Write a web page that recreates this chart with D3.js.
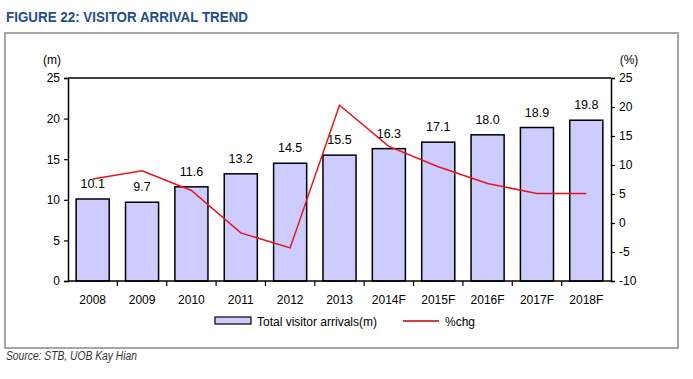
<!DOCTYPE html>
<html><head><meta charset="utf-8">
<script src="https://cdn.jsdelivr.net/npm/d3@7"></script>
<style>body{margin:0;background:#fff}svg{display:block}</style>
</head><body>
<script>
const categories = ["2008","2009","2010","2011","2012","2013","2014F","2015F","2016F","2017F","2018F"];
const arrivals = [10.1, 9.7, 11.6, 13.2, 14.5, 15.5, 16.3, 17.1, 18.0, 18.9, 19.8];
const pctChg = [7.6, 9.0, 5.6, -1.7, -4.3, 20.3, 13.2, 9.7, 6.8, 5.1, 5.1];
const leftTicks = [0, 5, 10, 15, 20, 25];
const rightTicks = [-10, -5, 0, 5, 10, 15, 20, 25];

const W = 693, H = 379;
const svg = d3.select("body").append("svg").attr("width", W).attr("height", H);
const L = 68, R = 611, T = 78, B = 281;
const font = "'Liberation Sans', Arial, sans-serif";

// frame
svg.append("rect").attr("x", 5).attr("y", 33).attr("width", 673).attr("height", 315)
  .attr("fill", "none").attr("stroke", "#a6a6a6").attr("stroke-width", 2);

svg.append("text").attr("x", 6).attr("y", 22)
  .attr("font-family", "'Liberation Sans Narrow','Arial Narrow', 'Liberation Sans', sans-serif")
  .attr("font-weight", "bold").attr("font-size", 15).attr("fill", "#1f4e8c")
  .attr("textLength", 242).attr("lengthAdjust", "spacingAndGlyphs")
  .text("FIGURE 22: VISITOR ARRIVAL TREND");

svg.append("text").attr("x", 6).attr("y", 360)
  .attr("font-family", "'Liberation Sans Narrow','Arial Narrow', 'Liberation Sans', sans-serif")
  .attr("font-style", "italic").attr("font-size", 12).attr("fill", "#333")
  .attr("textLength", 131).attr("lengthAdjust", "spacingAndGlyphs")
  .text("Source: STB, UOB Kay Hian");

const x = d3.scaleBand().domain(categories).range([L, R]).paddingInner(0.33).paddingOuter(0.165);
const yL = d3.scaleLinear().domain([0, 25]).range([B, T]);
const yR = d3.scaleLinear().domain([-10, 25]).range([B, T]);

// top border
svg.append("line").attr("x1", L).attr("x2", R).attr("y1", T).attr("y2", T)
  .attr("stroke", "#000").attr("stroke-width", 1.5);

// bars
svg.append("g").selectAll("rect").data(arrivals).join("rect")
  .attr("x", (d, i) => x(categories[i]))
  .attr("y", d => yL(d))
  .attr("width", x.bandwidth())
  .attr("height", d => B - yL(d))
  .attr("fill", "#ccccff").attr("stroke", "#000").attr("stroke-width", 1.5);

// value labels
svg.append("g").selectAll("text").data(arrivals).join("text")
  .attr("x", (d, i) => x(categories[i]) + x.bandwidth() / 2)
  .attr("y", d => yL(d) - 11)
  .attr("text-anchor", "middle").attr("font-family", font).attr("font-size", 12.5).attr("fill", "#000")
  .text(d => d.toFixed(1));

// line
const line = d3.line().x((d, i) => x(categories[i]) + x.bandwidth() / 2).y(d => yR(d));
svg.append("path").datum(pctChg).attr("d", line)
  .attr("fill", "none").attr("stroke", "#e8141c").attr("stroke-width", 1.5);

// left axis
const gl = svg.append("g").attr("transform", `translate(${L},0)`)
  .call(d3.axisLeft(yL).tickValues(leftTicks).tickSize(4).tickPadding(4).tickFormat(d => String(d)));
// right axis
const gr = svg.append("g").attr("transform", `translate(${R},0)`)
  .call(d3.axisRight(yR).tickValues(rightTicks).tickSize(4).tickPadding(4).tickFormat(d => String(d)));
// bottom axis
const gb = svg.append("g").attr("transform", `translate(0,${B})`)
  .call(d3.axisBottom(x).tickSize(0).tickPadding(14));
// category separator ticks
const step = x.step();
svg.append("g").selectAll("line").data(categories.slice(1)).join("line")
  .attr("x1", d => x(d) - step * x.paddingInner() / 2)
  .attr("x2", d => x(d) - step * x.paddingInner() / 2)
  .attr("y1", B).attr("y2", B + 5).attr("stroke", "#000").attr("stroke-width", 1.2);

[gl, gr, gb].forEach(g => {
  g.selectAll(".domain").attr("stroke", "#000").attr("stroke-width", 1.5);
  g.selectAll(".tick line").attr("stroke", "#000").attr("stroke-width", 1.2);
  g.selectAll(".tick text").attr("font-family", font).attr("font-size", 12).attr("fill", "#000");
});
gb.select(".domain").attr("d", `M${L},0H${R}`);

svg.append("text").attr("x", 52).attr("y", 64).attr("text-anchor", "middle")
  .attr("font-family", font).attr("font-size", 12).text("(m)");
svg.append("text").attr("x", 629).attr("y", 64).attr("text-anchor", "middle")
  .attr("font-family", font).attr("font-size", 12).text("(%)");

// legend
svg.append("rect").attr("x", 215).attr("y", 317).attr("width", 36).attr("height", 7)
  .attr("fill", "#ccccff").attr("stroke", "#000").attr("stroke-width", 1.2);
svg.append("text").attr("x", 257).attr("y", 326).attr("font-family", font).attr("font-size", 12)
  .text("Total visitor arrivals(m)");
svg.append("line").attr("x1", 403).attr("x2", 439).attr("y1", 321).attr("y2", 321)
  .attr("stroke", "#c00000").attr("stroke-width", 1.5);
svg.append("text").attr("x", 445).attr("y", 326).attr("font-family", font).attr("font-size", 12)
  .text("%chg");
</script>
</body></html>
